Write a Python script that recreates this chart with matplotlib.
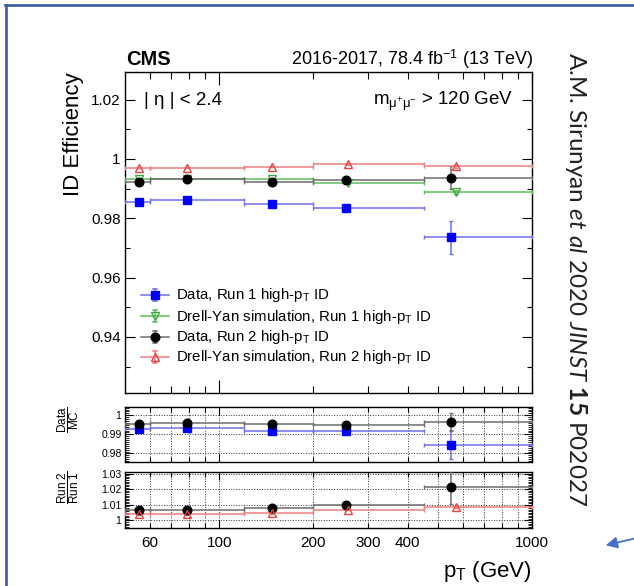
import numpy as np
import matplotlib
matplotlib.use('Agg')
import matplotlib.pyplot as plt
from matplotlib.ticker import FixedLocator, FuncFormatter, MultipleLocator, NullFormatter
from matplotlib.lines import Line2D
from matplotlib.patches import FancyArrowPatch

plt.rcParams['font.family'] = ['Liberation Sans', 'DejaVu Sans']
plt.rcParams['mathtext.fontset'] = 'custom'
plt.rcParams['mathtext.rm'] = 'Liberation Sans'
plt.rcParams['mathtext.sf'] = 'Liberation Sans'
plt.rcParams['mathtext.it'] = 'Lato:italic'
plt.rcParams['mathtext.bf'] = 'Lato:bold'

# ---------------- data ----------------
bin_edges = [50, 60, 120, 200, 450, 1000]
x_data = [55.5, 79, 147, 255, 552]
x_mc = [55.5, 79, 147, 258, 571]

eff_data_run1 = [0.9856, 0.9863, 0.9847, 0.9836, 0.9736]
err_data_run1 = [0.0004, 0.0004, 0.0005, 0.0006, 0.0056]
eff_mc_run1 = [0.9931, 0.9932, 0.9931, 0.9920, 0.9889]
err_mc_run1 = [0.0002, 0.0002, 0.0002, 0.0003, 0.0006]
eff_data_run2 = [0.9922, 0.9931, 0.9922, 0.9930, 0.9937]
err_data_run2 = [0.0004, 0.0004, 0.0005, 0.0006, 0.0038]
eff_mc_run2 = [0.9969, 0.9971, 0.9974, 0.9983, 0.9975]
err_mc_run2 = [0.0001, 0.0001, 0.0001, 0.0002, 0.0004]

sf_run1 = [0.9927, 0.9931, 0.9916, 0.9919, 0.9846]
sf_run1_err = [0.0005, 0.0005, 0.0006, 0.0007, 0.0076]
sf_run2 = [0.9957, 0.9962, 0.9952, 0.9950, 0.9965]
sf_run2_err = [0.0004, 0.0004, 0.0005, 0.0006, 0.0046]

r21_data = [1.0070, 1.0070, 1.0079, 1.0098, 1.0212]
r21_data_err = [0.0006, 0.0006, 0.0007, 0.0008, 0.0106]
r21_mc = [1.0040, 1.0040, 1.0045, 1.0068, 1.0087]
r21_mc_err = [0.0002, 0.0002, 0.0002, 0.0003, 0.0005]

xtick_labels = [60, 100, 200, 300, 400, 1000]
legend_labels = [r'Data, Run 1 high-p$_{\mathrm{T}}$ ID',
                 r'Drell-Yan simulation, Run 1 high-p$_{\mathrm{T}}$ ID',
                 r'Data, Run 2 high-p$_{\mathrm{T}}$ ID',
                 r'Drell-Yan simulation, Run 2 high-p$_{\mathrm{T}}$ ID']

# ---------------- styles ----------------
C_BLUE, L_BLUE = '#0000ff', '#6f6fee'
C_GREEN, L_GREEN = '#3aa83a', '#5cbf5c'
C_BLACK, L_BLACK = '#000000', '#6e6e6e'
C_RED, L_RED = '#e8413f', '#ef8080'

W, H = 634, 586
fig = plt.figure(figsize=(W / 100, H / 100), dpi=100)
fig.patch.set_facecolor('white')


def fx(px):
    return px / W


def fy(py):
    return 1 - py / H


def add_axes(left, right, top, bottom):
    return fig.add_axes([fx(left), fy(bottom), fx(right) - fx(left), fy(top) - fy(bottom)])


ax = add_axes(125, 532, 71.7, 393.3)
ax1 = add_axes(125, 532, 406.7, 461.7)
ax2 = add_axes(125, 532, 472.2, 527.5)

lo = np.array(bin_edges[:-1], float)
hi = np.array(bin_edges[1:], float)


def series(a, x, y, e, lc, mk, mfc, mec, ms, z=3):
    x = np.array(x, float)
    a.errorbar(x, y, xerr=[x - lo, hi - x], yerr=e, fmt='none', ecolor=lc,
               elinewidth=1.1, capsize=1.6, capthick=1.0, zorder=z)
    a.plot(x, y, linestyle='none', marker=mk, ms=ms, mfc=mfc, mec=mec,
           mew=1.0, zorder=z + 0.5)


def fmt(v, p):
    return f'{round(v, 4):g}'


minor_x = [60, 70, 80, 90, 200, 300, 400, 500, 600, 700, 800, 900]

for a in (ax, ax1, ax2):
    a.set_xscale('log')
    a.set_xlim(bin_edges[0], bin_edges[-1])
    a.xaxis.set_major_locator(FixedLocator([100, 1000]))
    a.xaxis.set_minor_locator(FixedLocator(minor_x))
    a.xaxis.set_major_formatter(NullFormatter())
    a.xaxis.set_minor_formatter(NullFormatter())
    a.tick_params(axis='both', which='both', direction='in', top=True, right=True,
                  width=0.8, colors='black')
    a.yaxis.set_major_formatter(FuncFormatter(fmt))
    for s in a.spines.values():
        s.set_linewidth(1.0)

# main panel
series(ax, x_data, eff_data_run1, err_data_run1, L_BLUE, 's', C_BLUE, C_BLUE, 5.5)
series(ax, x_mc, eff_mc_run1, err_mc_run1, L_GREEN, 'v', 'none', C_GREEN, 6.2)
series(ax, x_data, eff_data_run2, err_data_run2, L_BLACK, 'o', C_BLACK, C_BLACK, 6.2)
series(ax, x_mc, eff_mc_run2, err_mc_run2, L_RED, '^', 'none', C_RED, 6.2)
ax.set_ylim(0.921, 1.0294)
ax.yaxis.set_major_locator(MultipleLocator(0.02))
ax.yaxis.set_minor_locator(MultipleLocator(0.01))
ax.tick_params(axis='x', which='major', length=9.4)
ax.tick_params(axis='x', which='minor', length=4.8)
ax.tick_params(axis='y', which='major', length=7, labelsize=11, pad=3)
ax.tick_params(axis='y', which='minor', length=3.6)

# ratio panel 1
series(ax1, x_data, sf_run1, sf_run1_err, L_BLUE, 's', C_BLUE, C_BLUE, 5.5)
series(ax1, x_data, sf_run2, sf_run2_err, L_BLACK, 'o', C_BLACK, C_BLACK, 6.2)
ax1.set_ylim(0.9757, 1.0045)
ax1.yaxis.set_major_locator(MultipleLocator(0.01))
ax1.yaxis.set_minor_locator(MultipleLocator(0.001))

# ratio panel 2
series(ax2, x_data, r21_data, r21_data_err, L_BLACK, 'o', C_BLACK, C_BLACK, 6.2)
series(ax2, x_mc, r21_mc, r21_mc_err, L_RED, '^', 'none', C_RED, 6.2)
ax2.set_ylim(0.9955, 1.031)
ax2.yaxis.set_major_locator(MultipleLocator(0.01))
ax2.yaxis.set_minor_locator(MultipleLocator(0.001))

for a in (ax1, ax2):
    a.tick_params(axis='y', which='major', length=5.5, labelsize=7.5, pad=2.5)
    a.tick_params(axis='y', which='minor', length=3.2, width=0.6)
    a.tick_params(axis='x', which='major', length=6)
    a.tick_params(axis='x', which='minor', length=3.5)
    a.grid(True, which='both', axis='x', linestyle=':', color='#333333', lw=0.7)
    a.grid(True, which='major', axis='y', linestyle=':', color='#333333', lw=0.7)
    a.set_axisbelow(True)

ax2.xaxis.set_major_formatter(FuncFormatter(lambda v, p: f'{v:g}' if round(v) in xtick_labels else ''))
ax2.xaxis.set_minor_formatter(FuncFormatter(lambda v, p: f'{v:g}' if round(v) in xtick_labels else ''))
ax2.tick_params(axis='x', which='both', labelsize=11, pad=6)

# legend (manual)
def ax_y(py):
    return (393.3 - py) / 321.6


def ax_x(px):
    return (px - 125) / 407


leg_rows = [295, 316, 337, 357]
leg_styles = [(L_BLUE, 's', C_BLUE, C_BLUE, 5.5), (L_GREEN, 'v', 'none', C_GREEN, 6.2),
              (L_BLACK, 'o', C_BLACK, C_BLACK, 6.2), (L_RED, '^', 'none', C_RED, 6.2)]
for row, lab, (lc, mk, mfc, mec, ms) in zip(leg_rows, legend_labels, leg_styles):
    yc = ax_y(row)
    dy = 6 / 321.6
    cw = 2 / 407
    xm = ax_x(155.4)
    kw = dict(transform=ax.transAxes, color=lc, lw=1.1, clip_on=False)
    ax.plot([ax_x(141.4), ax_x(169)], [yc, yc], **kw)
    ax.plot([xm, xm], [yc - dy, yc + dy], **kw)
    ax.plot([xm - cw, xm + cw], [yc + dy, yc + dy], **kw)
    ax.plot([xm - cw, xm + cw], [yc - dy, yc - dy], **kw)
    ax.plot([xm], [yc], transform=ax.transAxes, marker=mk, ms=ms, mfc=mfc, mec=mec,
            mew=1.0, linestyle='none', clip_on=False)
    ax.text(ax_x(176), ax_y(row + 4.5), lab, transform=ax.transAxes, ha='left',
            va='baseline', fontsize=10.8)

# texts
fig.text(fx(126), fy(65), 'CMS', fontweight='bold', fontsize=14.5, ha='left', va='baseline')
fig.text(fx(533), fy(65), r'2016-2017, 78.4 fb$^{\mathrm{-1}}$ (13 TeV)', fontsize=13,
         ha='right', va='baseline')
fig.text(fx(143.5), fy(105), '| η | < 2.4', fontsize=13.5, ha='left', va='baseline')
fig.text(fx(513), fy(105), r'm$_{\mathrm{\mu^{+}\mu^{-}}}$ > 120 GeV', fontsize=13.5,
         ha='right', va='baseline')
fig.text(fx(73), fy(72), 'ID Efficiency', rotation=90, fontsize=16, ha='center', va='top')
fig.text(fx(68), fy(406), r'$\dfrac{\mathrm{Data}}{\mathrm{MC}}$', rotation=90, fontsize=8.5,
         ha='center', va='top')
fig.text(fx(68), fy(471), r'$\dfrac{\mathrm{Run\ 2}}{\mathrm{Run\ 1}}$', rotation=90, fontsize=8.5,
         ha='center', va='top')
fig.text(fx(532), fy(577), r'p$_{\mathrm{T}}$ (GeV)', fontsize=16, ha='right', va='baseline')

ref = fig.text(fx(576), fy(52), r'A.M. Sirunyan $\mathit{et\ al}$ 2020 $\mathit{JINST}$ $\mathbf{15}$ P02027',
               rotation=-90, fontsize=14, ha='center', va='top', family='Lato', color='#222222')
fig.canvas.draw()
bb = ref.get_window_extent()
ref.set_fontsize(14 * 456 / bb.height)

# decorations: border and arrow
fig.add_artist(Line2D([fx(6), fx(6)], [fy(5), fy(590)], transform=fig.transFigure,
                      color='#3a5a9c', lw=1.9))
fig.add_artist(Line2D([fx(5), fx(640)], [fy(5), fy(5)], transform=fig.transFigure,
                      color='#3a5a9c', lw=1.9))
fig.add_artist(FancyArrowPatch((fx(645), fy(536)), (fx(603), fy(546)),
                               transform=fig.transFigure, arrowstyle='-|>',
                               mutation_scale=17, color='#4472c4', lw=1.3))

fig.savefig('out.png', dpi=100)
